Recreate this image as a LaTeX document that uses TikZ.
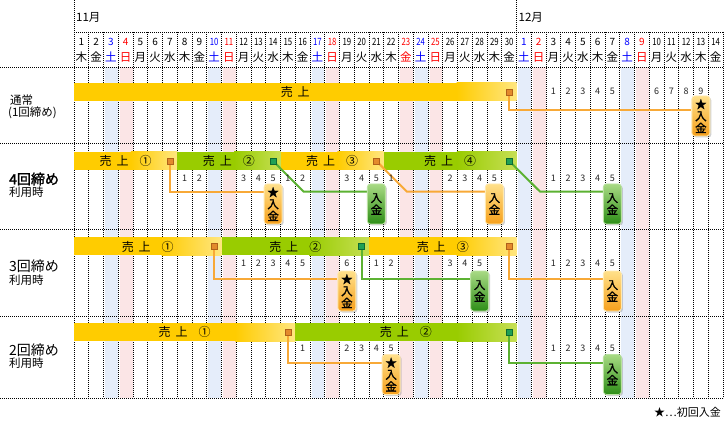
\documentclass[tikz,border=0pt]{standalone}
\usepackage{fontspec}
\usepackage{graphicx}
\setmainfont{Noto Sans CJK JP}
\newfontfamily\boldjp[FakeBold=1.6]{Noto Sans CJK JP}
\usetikzlibrary{shadows}
\definecolor{Ya}{HTML}{FFCC00}
\definecolor{Yb}{HTML}{FFE680}
\definecolor{Ga}{HTML}{99CC00}
\definecolor{Gb}{HTML}{C6DF55}
\definecolor{satc}{HTML}{E5EDFA}
\definecolor{sunc}{HTML}{FBE5E6}
\definecolor{olinec}{HTML}{F8A937}
\definecolor{glinec}{HTML}{5CB232}
\definecolor{osqf}{HTML}{E38A2C}
\definecolor{osqd}{HTML}{B0611A}
\definecolor{gsqf}{HTML}{1FA055}
\definecolor{gsqd}{HTML}{0C6A33}
\definecolor{obt}{HTML}{FFE08A}
\definecolor{obb}{HTML}{F6A01C}
\definecolor{obd}{HTML}{FFE9B0}
\definecolor{gbt}{HTML}{A8DA84}
\definecolor{gbb}{HTML}{2E8E17}
\definecolor{gbd}{HTML}{B9E2A0}
\definecolor{dblue}{HTML}{0000FF}
\definecolor{dred}{HTML}{FF0000}
\pgfmathdeclarefunction{cx}{1}{\pgfmathparse{74+(#1-0.5)*14.75}}
\pgfmathdeclarefunction{lx}{1}{\pgfmathparse{74+(#1-1)*14.75}}
\pgfmathdeclarefunction{rx}{1}{\pgfmathparse{74+#1*14.75}}
\pgfdeclarelayer{bg}
\pgfdeclarelayer{lk}
\pgfsetlayers{bg,lk,main}
\tikzset{
  hdnum/.style={font=\fontsize{10}{10}\selectfont, inner sep=0},
  hdwk/.style={font=\fontsize{11.5}{11.5}\selectfont, inner sep=0},
  bnum/.style={font=\fontsize{9}{9}\selectfont, inner sep=0, text=black!85},
  bartext/.style={font=\fontsize{12}{12}\selectfont, inner sep=0},
  dotline/.style={line width=0.9pt, dash pattern=on 0.9pt off 1.1pt, black},
  sqbase/.style={rectangle, minimum size=6pt, inner sep=0, line width=0.6pt},
  osq/.style={sqbase, fill=osqf, draw=osqd},
  gsq/.style={sqbase, fill=gsqf, draw=gsqd},
  boxbase/.style={rectangle, rounded corners=3pt, minimum width=18pt, minimum height=40pt,
    inner sep=0, line width=0.8pt, align=center,
    drop shadow={shadow xshift=1.5pt, shadow yshift=-1.5pt, opacity=0.35},
    font=\boldjp\fontsize{11.5}{12}\selectfont},
  obox/.style={boxbase, top color=obt, bottom color=obb, draw=obd},
  gbox/.style={boxbase, top color=gbt, bottom color=gbb, draw=gbd},
  olink/.style={draw=olinec, line width=2pt},
  glink/.style={draw=glinec, line width=2pt},
  lab/.style={anchor=west, inner sep=0, font=\fontsize{11.5}{11.5}\selectfont},
  labbig/.style={anchor=west, inner sep=0, font=\fontsize{14}{14}\selectfont},
  labsmall/.style={anchor=west, inner sep=0, font=\fontsize{11.5}{11.5}\selectfont},
}
\newcommand\salesbar[7]{%
  \pgfmathsetmacro\xa{lx(#2)}%
  \pgfmathsetmacro\xb{rx(#3)}%
  \pgfmathsetmacro\xg{\xb-min(0.45*(\xb-\xa),60)}%
  \fill[#6a] (\xa,#4) rectangle (\xg+0.5,#5);
  \shade[left color=#6a,right color=#6b] (\xg,#4) rectangle (\xb,#5);
  \node[bartext] (#1) at ({(\xa+\xb)/2},{(#4+#5)/2}) {#7};
}
\newcommand\bizdays[3]{%
  \foreach \i/\n in {#3} \node[bnum] (n#1\i) at ({cx(\i)},#2) {\n};
}
\begin{document}
\begin{tikzpicture}[x=1pt,y=-1pt]
\useasboundingbox (0,0) rectangle (725,430);
\begin{pgfonlayer}{bg}
\fill[white] (0,0) rectangle (725,430);
% weekend / holiday shading
\foreach \i/\c in {3/satc,4/sunc,10/satc,11/sunc,17/satc,18/sunc,23/sunc,24/satc,25/sunc,31/satc,32/sunc,38/satc,39/sunc}
  \fill[\c] ({lx(\i)+1.5},67) rectangle ({rx(\i)-0.5},398);
% grid
\foreach \i in {0,...,44} \draw[dotline] ({74+\i*14.75},32) -- ({74+\i*14.75},398);
\draw[dotline] (74,0) -- (74,32);
\draw[dotline] (516.5,0) -- (516.5,32);
\draw[dotline] (74,32) -- (723,32);
\foreach \yy in {67,143,229,316,398} \draw[dotline] (0,\yy) -- (723,\yy);
% bars
\salesbar{a1}{1}{30}{83}{101}{Y}{売\hspace{5pt}上}
\salesbar{b1}{1}{7}{152}{170}{Y}{売\hspace{5pt}上\hspace{11pt}①}
\salesbar{b2}{8}{14}{152}{170}{G}{売\hspace{5pt}上\hspace{11pt}②}
\salesbar{b3}{15}{21}{152}{170}{Y}{売\hspace{5pt}上\hspace{11pt}③}
\salesbar{b4}{22}{30}{152}{170}{G}{売\hspace{5pt}上\hspace{11pt}④}
\salesbar{c1}{1}{10}{237.5}{255.5}{Y}{売\hspace{5pt}上\hspace{11pt}①}
\salesbar{c2}{11}{20}{237.5}{255.5}{G}{売\hspace{5pt}上\hspace{11pt}②}
\salesbar{c3}{21}{30}{237.5}{255.5}{Y}{売\hspace{5pt}上\hspace{11pt}③}
\salesbar{d1}{1}{15}{323}{341}{Y}{売\hspace{5pt}上\hspace{11pt}①}
\salesbar{d2}{16}{30}{323}{341}{G}{売\hspace{5pt}上\hspace{11pt}②}
\end{pgfonlayer}
% month labels
\node[lab] (m11) at (76,17) {11月};
\node[lab] (m12) at (518.5,17) {12月};
% header
\foreach \i in {1,...,44}{
  \pgfmathtruncatemacro\dnum{\i>30 ? \i-30 : \i}
  \pgfmathtruncatemacro\wkd{mod(\i-1,7)}
  \def\col{black}
  \ifnum\wkd=2 \def\col{dblue}\fi
  \ifnum\wkd=3 \def\col{dred}\fi
  \ifnum\i=23 \def\col{dred}\fi
  \node[hdnum,text=\col] (h\i) at ({cx(\i)},42) {\ifnum\dnum>9 \scalebox{0.78}[1]{\dnum}\else\dnum\fi};
  \node[hdwk,text=\col] (w\i) at ({cx(\i)},57) {\ifcase\wkd 木\or 金\or 土\or 日\or 月\or 火\or 水\fi};
}
% left labels
\node[lab] (l1a) at (10,100) {通常};
\node[lab] (l1b) at (8,112.5) {(1回締め)};
\node[labbig,font=\boldjp\fontsize{14}{14}\selectfont] (l2a) at (9,179) {4回締め};
\node[labsmall] (l2b) at (9,192) {利用時};
\node[labbig] (l3a) at (9,266) {3回締め};
\node[labsmall] (l3b) at (9,280) {利用時};
\node[labbig] (l4a) at (9,350) {2回締め};
\node[labsmall] (l4b) at (9,363.5) {利用時};
% business day counts
\bizdays{a}{91}{33/1,34/2,35/3,36/4,37/5,40/6,41/7,42/8,43/9}
\bizdays{b}{178.5}{8/1,9/2,12/3,13/4,14/5,15/1,16/2,19/3,20/4,21/5,22/1,26/2,27/3,28/4,29/5,33/1,34/2,35/3,36/4,37/5}
\bizdays{c}{263.5}{12/1,13/2,14/3,15/4,16/5,19/6,21/1,22/2,26/3,27/4,28/5,33/1,34/2,35/3,36/4,37/5}
\bizdays{d}{348.5}{16/1,19/2,20/3,21/4,22/5,33/1,34/2,35/3,36/4,37/5}
% closing markers
\node[osq] (a1s) at ({cx(30)},92) {};
\node[osq] (b1s) at ({cx(7)},161) {};
\node[gsq] (b2s) at ({cx(14)},161) {};
\node[osq] (b3s) at ({cx(21)},161) {};
\node[gsq] (b4s) at ({cx(30)},161) {};
\node[osq] (c1s) at ({cx(10)},246.5) {};
\node[gsq] (c2s) at ({cx(20)},246.5) {};
\node[osq] (c3s) at ({cx(30)},246.5) {};
\node[osq] (d1s) at ({cx(15)},332) {};
\node[gsq] (d2s) at ({cx(30)},332) {};
% payment boxes
\node[obox] (a1b) at ({cx(43)},116) {★\\入\\金};
\node[obox] (b1b) at ({cx(14)},204) {★\\入\\金};
\node[gbox] (b2b) at ({cx(21)},204) {入\\金};
\node[obox] (b3b) at ({cx(29)},204) {入\\金};
\node[gbox] (b4b) at ({cx(37)},204) {入\\金};
\node[obox] (c1b) at ({cx(19)},291) {★\\入\\金};
\node[gbox] (c2b) at ({cx(28)},291) {入\\金};
\node[obox] (c3b) at ({cx(37)},291) {入\\金};
\node[obox] (d1b) at ({cx(22)},374.5) {★\\入\\金};
\node[gbox] (d2b) at ({cx(37)},374.5) {入\\金};
% turn points
\coordinate (a1t) at ({cx(30)},110);
\coordinate (b1t) at ({cx(7)},191.7);
\coordinate (b2t) at ({cx(14)+30.5},191.7);
\coordinate (b3t) at ({cx(21)+30.5},191.7);
\coordinate (b4t) at ({cx(30)+31},191.7);
\coordinate (c1t) at ({cx(10)},279);
\coordinate (c2t) at ({cx(20)},279);
\coordinate (c3t) at ({cx(30)},279);
\coordinate (d1t) at ({cx(15)},362.7);
\coordinate (d2t) at ({cx(30)},362.7);
\begin{pgfonlayer}{lk}
\draw[olink] (a1s.center) -- (a1t) -- (a1t -| a1b.west);
\draw[olink] (b1s.center) -- (b1t) -- (b1t -| b1b.west);
\draw[glink] (b2s.center) -- (b2t) -- (b2t -| b2b.west);
\draw[olink] (b3s.center) -- (b3t) -- (b3t -| b3b.west);
\draw[glink] (b4s.center) -- (b4t) -- (b4t -| b4b.west);
\draw[olink] (c1s.center) -- (c1t) -- (c1t -| c1b.west);
\draw[glink] (c2s.center) -- (c2t) -- (c2t -| c2b.west);
\draw[olink] (c3s.center) -- (c3t) -- (c3t -| c3b.west);
\draw[olink] (d1s.center) -- (d1t) -- (d1t -| d1b.west);
\draw[glink] (d2s.center) -- (d2t) -- (d2t -| d2b.west);
\end{pgfonlayer}
% legend
\node[anchor=east, inner sep=0, font=\fontsize{11}{11}\selectfont] (leg) at (721,412) {★…初回入金};
\end{tikzpicture}
\end{document}
